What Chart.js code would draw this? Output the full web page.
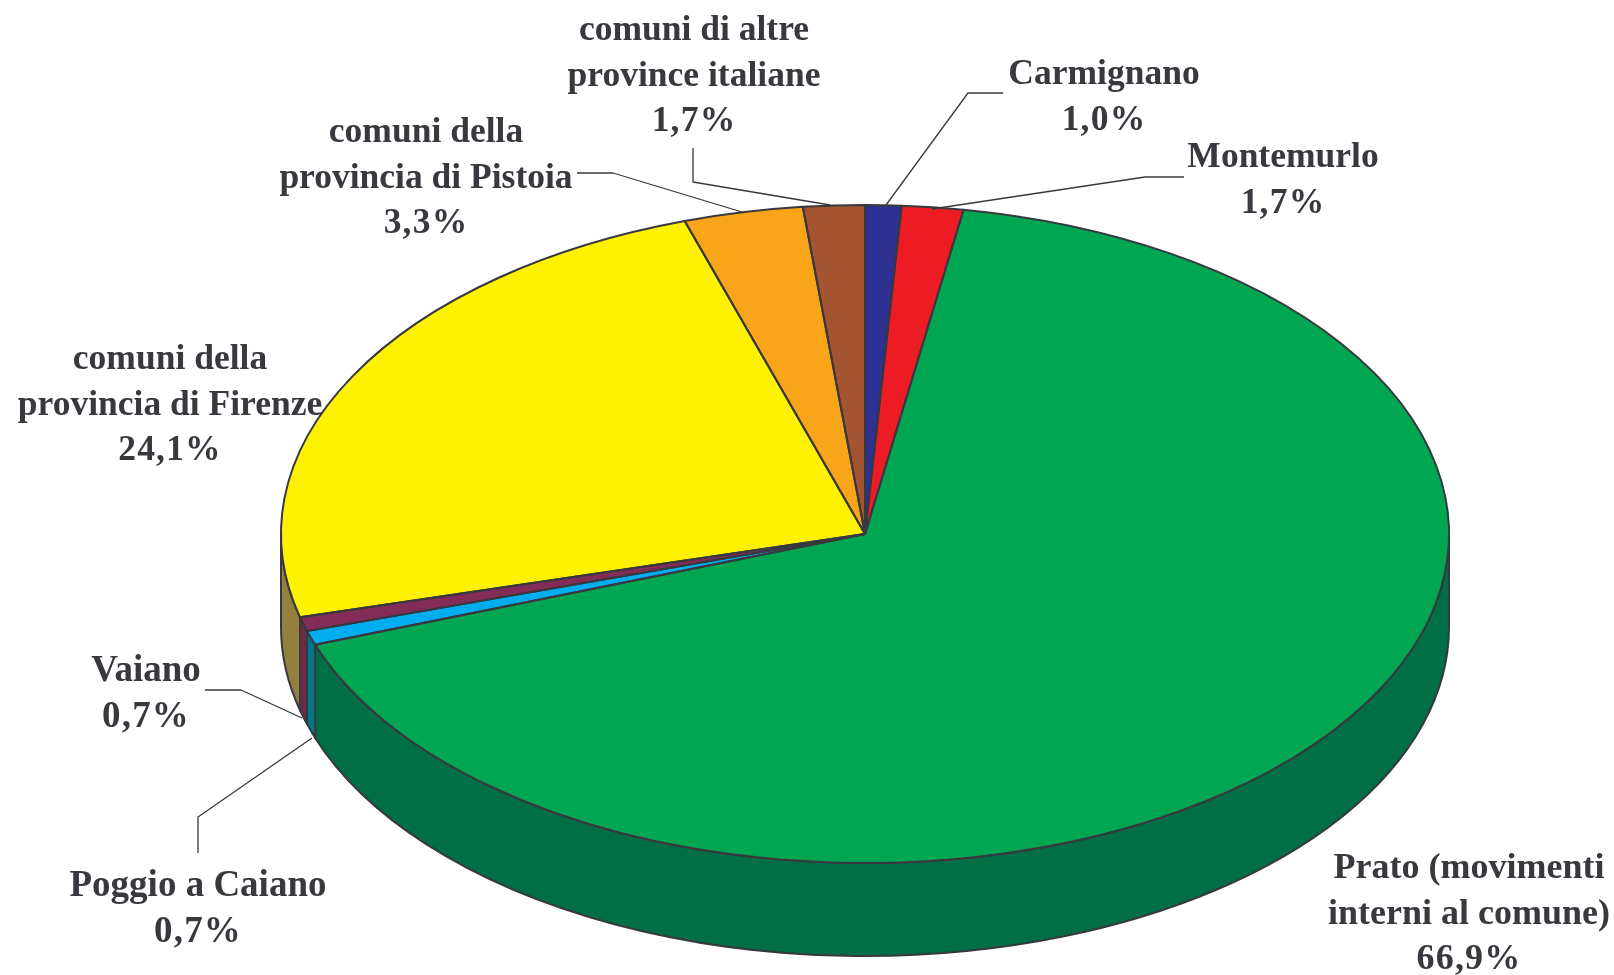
<!DOCTYPE html>
<html><head><meta charset="utf-8">
<style>html,body{margin:0;padding:0;background:#fff;overflow:hidden}canvas{display:block}</style>
<script src="https://cdn.jsdelivr.net/npm/chart.js@4/dist/chart.umd.min.js"></script>
</head><body><canvas id="c" width="1614" height="975"></canvas>
<script>
const categories = ['Carmignano','Montemurlo','Prato (movimenti interni al comune)','Poggio a Caiano','Vaiano','comuni della provincia di Firenze','comuni della provincia di Pistoia','comuni di altre province italiane'];
const values = [1.0,1.7,66.9,0.7,0.7,24.1,3.3,1.7];
const percentLabels = ['1,0%','1,7%','66,9%','0,7%','0,7%','24,1%','3,3%','1,7%'];
const topColors = ['#2e3192','#ed1c24','#00a651','#00aeef','#832c58','#fff200','#f9a51a','#a45431'];
const sideColors = ['#1f2266','#a5141a','#006f45','#00788c','#6a2a4e','#94803c','#ad7312','#723a22'];

const labelLines = [
  ['Carmignano'],['Montemurlo'],['Prato (movimenti','interni al comune)'],['Poggio a Caiano'],['Vaiano'],
  ['comuni della','provincia di Firenze'],['comuni della','provincia di Pistoia'],['comuni di altre','province italiane']
];
// layout: label centre x, first baseline y, font size, leader polyline
const labelLayout = [
  {x:1104,y:84,size:35.5,lead:[[886,205],[968,93],[1003,93]]},
  {x:1283,y:167,size:35.5,lead:[[932,209],[1145,177],[1184,177]]},
  {x:1469,y:878,size:36,lead:null},
  {x:198,y:896,size:37,lead:[[198,853],[198,817],[312,738]]},
  {x:146,y:681,size:37,lead:[[205,690],[241,690],[302,718]]},
  {x:170,y:369,size:35.5,lead:null},
  {x:426,y:142,size:35.5,lead:[[577,173],[613,173],[742,212]]},
  {x:694,y:40,size:35.5,lead:[[693,148],[693,182],[830,205]]}
];
const CX=865, CY=534, RX=584, RY=329, DEPTH=93, K=RY/RX;
const INK='#38383f';

const pie3d = {
  id:'pie3d',
  beforeDatasetsDraw(chart){
    const ctx=chart.ctx, arcs=chart.getDatasetMeta(0).data;
    const c=arcs[0];
    // extruded side of the pie, front half only
    arcs.forEach((a,i)=>{
      const s=Math.max(a.startAngle,0), e=Math.min(a.endAngle,Math.PI);
      if(e<=s) return;
      ctx.beginPath();
      ctx.ellipse(a.x,a.y,a.outerRadius,a.outerRadius*K,0,s,e);
      ctx.ellipse(a.x,a.y+DEPTH,a.outerRadius,a.outerRadius*K,0,e,s,true);
      ctx.closePath();
      ctx.fillStyle=sideColors[i]; ctx.fill();
      ctx.strokeStyle=INK; ctx.lineWidth=2; ctx.lineJoin='round'; ctx.stroke();
    });
    ctx.save();
    ctx.translate(c.x,c.y); ctx.scale(1,K); ctx.translate(-c.x,-c.y);
  },
  afterDatasetsDraw(chart){
    const ctx=chart.ctx, arcs=chart.getDatasetMeta(0).data;
    ctx.restore();
    arcs.forEach(a=>{
      ctx.beginPath();
      ctx.moveTo(a.x,a.y);
      ctx.ellipse(a.x,a.y,a.outerRadius,a.outerRadius*K,0,a.startAngle,a.endAngle);
      ctx.closePath();
      ctx.strokeStyle=INK; ctx.lineWidth=2; ctx.lineJoin='round'; ctx.stroke();
    });
  },
  afterDraw(chart){
    const ctx=chart.ctx;
    ctx.save();
    ctx.textAlign='center'; ctx.textBaseline='alphabetic';
    ctx.fillStyle=INK;
    labelLayout.forEach((l,i)=>{
      ctx.font='bold '+l.size+'px "Liberation Serif", "Times New Roman", serif';
      ctx.letterSpacing='0px';
      labelLines[i].forEach((t,j)=>ctx.fillText(t,l.x,l.y+j*45.5));
      ctx.letterSpacing='1.2px';
      ctx.fillText(percentLabels[i],l.x,l.y+labelLines[i].length*45.5);
      ctx.letterSpacing='0px';
      if(l.lead){
        ctx.beginPath();
        l.lead.forEach((p,j)=>j?ctx.lineTo(p[0],p[1]):ctx.moveTo(p[0],p[1]));
        ctx.strokeStyle=INK; ctx.lineWidth=1.3; ctx.stroke();
      }
    });
    ctx.restore();
  }
};

new Chart(document.getElementById('c'),{
  type:'pie',
  data:{labels:categories,datasets:[{data:values,backgroundColor:topColors,borderWidth:0}]},
  options:{
    responsive:false,animation:false,events:[],radius:RX,
    layout:{padding:{left:2*CX-1614,top:2*CY-975,right:0,bottom:0}},
    plugins:{legend:{display:false},tooltip:{enabled:false},title:{display:false}}
  },
  plugins:[pie3d]
});
</script></body></html>
